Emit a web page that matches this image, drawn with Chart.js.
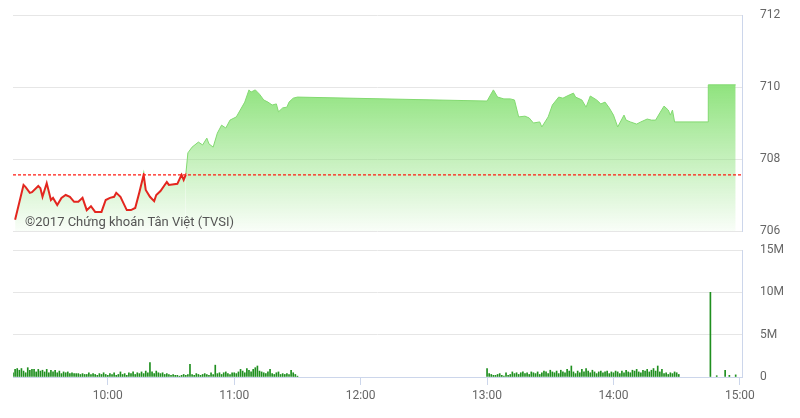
<!DOCTYPE html>
<html lang="vi">
<head>
    <meta charset="UTF-8">
    <title>Diễn biến chỉ số trong phiên</title>
    <script src="https://cdn.jsdelivr.net/npm/chart.js"></script>
    <style>
        body {
            margin: 0;
            background: #fff;
            font-family: Roboto, sans-serif;
        }

        #wrap {
            position: relative;
            width: 800px;
            height: 418px;
        }

        #priceChart {
            position: absolute;
            left: 0;
            top: 0;
        }

        #volumeChart {
            position: absolute;
            left: 0;
            top: 240px;
        }

        #credit {
            position: absolute;
            left: 25px;
            top: 214px;
            font-size: 13px;
            color: #555;
            white-space: nowrap;
        }
    </style>
</head>
<body>
    <div id="wrap">
        <canvas id="priceChart" width="800" height="240"></canvas>
        <canvas id="volumeChart" width="800" height="178"></canvas>
        <div id="credit">©2017 Chứng khoán Tân Việt (TVSI)</div>
    </div>

    <script>
        // tham chiếu (giá đóng cửa phiên trước)
        var refPrice = 707.56;

        // diễn biến chỉ số
        var priceTimes = [
            '9:16', '9:20', '9:21', '9:23', '9:24', '9:27', '9:28', '9:29', '9:31', '9:33',
            '9:34', '9:36', '9:38', '9:40', '9:42', '9:44', '9:46', '9:48', '9:50', '9:52',
            '9:54', '9:57', '9:59', '10:01', '10:03', '10:04', '10:06', '10:09', '10:11', '10:13',
            '10:15', '10:17', '10:18', '10:20', '10:22', '10:23', '10:25', '10:28', '10:29', '10:33',
            '10:35', '10:36', '10:37', '10:38', '10:40', '10:43', '10:45', '10:47', '10:48', '10:50',
            '10:52', '10:54', '10:56', '10:58', '11:01', '11:05', '11:07', '11:08', '11:10', '11:12',
            '11:14', '11:16', '11:18', '11:20', '11:21', '11:23', '11:25', '11:26', '11:28', '11:30',
            '13:00', '13:03', '13:05', '13:08', '13:11', '13:13', '13:15', '13:18', '13:20', '13:22',
            '13:25', '13:26', '13:29', '13:31', '13:34', '13:36', '13:38', '13:41', '13:42', '13:45',
            '13:47', '13:49', '13:52', '13:54', '13:56', '13:58', '14:00', '14:02', '14:05', '14:06',
            '14:08', '14:11', '14:13', '14:16', '14:18', '14:20', '14:22', '14:24', '14:26', '14:27',
            '14:28', '14:29', '14:45', '14:45', '14:58'
        ];
        var priceValues = [
            706.31, 707.28, 707.22, 707.06, 707.08, 707.25, 707.19, 706.95, 707.33, 706.86,
            706.92, 706.72, 706.92, 707.00, 706.95, 706.81, 706.81, 706.92, 706.58, 706.69,
            706.53, 706.53, 706.86, 706.92, 706.95, 707.06, 706.95, 706.58, 706.58, 706.64,
            707.08, 707.56, 707.14, 706.95, 706.83, 707.00, 707.11, 707.36, 707.28, 707.31,
            707.56, 707.42, 707.56, 708.17, 708.33, 708.47, 708.39, 708.58, 708.42, 708.33,
            708.72, 708.94, 708.86, 709.08, 709.17, 709.58, 709.92, 709.86, 709.92, 709.80,
            709.64, 709.58, 709.50, 709.53, 709.31, 709.42, 709.44, 709.58, 709.69, 709.72,
            709.61, 709.92, 709.72, 709.67, 709.67, 709.64, 709.17, 709.19, 709.14, 709.00,
            709.03, 708.89, 709.17, 709.50, 709.72, 709.69, 709.75, 709.83, 709.72, 709.64,
            709.44, 709.75, 709.64, 709.53, 709.58, 709.42, 709.22, 708.89, 709.22, 709.08,
            709.03, 708.97, 709.03, 709.11, 709.08, 709.08, 709.28, 709.47, 709.36, 709.22,
            709.36, 709.03, 709.03, 710.06, 710.06
        ];

        // khối lượng (triệu cp), mỗi phút một cột
        var morningStart = '9:15';
        var morningVolumes = [
            0.5, 0.9, 1.0, 0.8, 1.0, 0.7, 0.5, 1.1, 0.8, 0.9, 0.9, 0.6, 0.9, 0.7, 0.8, 0.6,
            0.9, 0.5, 0.8, 0.6, 0.8, 0.5, 0.7, 0.4, 0.6, 0.5, 0.6, 0.4, 0.5, 0.4, 0.4,
            0.4, 0.3, 0.4, 0.3, 0.3, 0.5, 0.3, 0.4, 0.3, 0.2, 0.4, 0.3, 0.5, 0.3, 0.2,
            0.4, 0.3, 0.5, 0.2, 0.3, 0.6, 0.3, 0.4, 0.2, 0.5, 0.4, 0.6, 0.3, 0.5, 0.4,
            0.6, 0.4, 0.7, 0.5, 1.7, 0.6, 0.4, 0.7, 0.5, 0.4, 0.5, 0.3, 0.4, 0.3, 0.2,
            0.3, 0.2, 0.2, 0.1, 0.2, 0.3, 0.2, 0.3, 1.5, 0.3, 0.2, 0.4, 0.3, 0.2, 0.3,
            0.4, 0.3, 0.2, 0.5, 0.3, 1.4, 0.4, 0.5, 0.3, 0.5, 0.6, 0.4, 0.3, 0.5, 0.5,
            0.4, 0.6, 0.9, 0.7, 0.5, 1.0, 0.8, 0.6, 0.9, 1.1, 1.3, 0.7, 0.6, 0.5, 0.4,
            0.6, 0.9, 0.4, 0.3, 0.5, 0.6, 0.3, 0.4, 0.3, 0.4, 0.3, 0.8, 0.5, 0.3, 0.1
        ];
        var afternoonStart = '13:00';
        var afternoonVolumes = [
            1.0, 0.4, 0.3, 0.2, 0.2, 0.3, 0.4, 0.2, 0.1, 0.5, 0.2, 0.3, 0.6, 0.4, 0.5, 0.3,
            0.5, 0.6, 0.4, 0.5, 0.3, 0.6, 0.5, 0.4, 0.6, 0.3, 0.5, 0.7, 0.6, 0.4, 0.8,
            0.6, 0.5, 0.7, 0.4, 0.8, 0.6, 0.5, 0.9, 0.7, 1.3, 0.6, 0.4, 0.7, 0.5, 0.9,
            0.6, 1.0, 0.7, 0.5, 0.8, 0.6, 0.4, 0.6, 0.7, 0.5, 0.6, 0.7, 0.4, 0.6, 0.5,
            0.7, 0.6, 0.4, 0.7, 0.5, 0.8, 0.6, 0.5, 0.8, 0.7, 0.9, 0.6, 0.5, 0.8, 0.7,
            0.9, 0.6, 0.8, 1.0, 0.7, 1.3, 0.6, 0.9, 0.4, 0.5, 0.3, 0.5, 0.4, 0.6, 0.5, 0.3
        ];
        // ATC và sau ATC
        var closeTimes = ['14:46', '14:49', '14:53', '14:55', '14:58'];
        var closeVolumes = [10.0, 0.15, 0.8, 0.2, 0.25];

        var timeRange = ['9:15', '15:01'];
        var timeTicks = ['10:00', '11:00', '12:00', '13:00', '14:00', '15:00'];
        var priceTicks = [706, 708, 710, 712];
        var volumeTicks = [0, 5, 10, 15];

        function toMin(s) {
            var p = s.split(':');
            return parseInt(p[0], 10) * 60 + parseInt(p[1], 10);
        }

        function minLabel(m) {
            var h = Math.floor(m / 60), mm = m % 60;
            return h + ':' + (mm < 10 ? '0' : '') + mm;
        }

        var xMin = toMin(timeRange[0]);
        var xMax = toMin(timeRange[1]);

        var pricePoints = priceTimes.map(function (t, i) {
            return { x: toMin(t), y: priceValues[i] };
        });

        var volumePoints = [];
        morningVolumes.forEach(function (v, i) {
            volumePoints.push({ x: toMin(morningStart) + i, y: v });
        });
        afternoonVolumes.forEach(function (v, i) {
            volumePoints.push({ x: toMin(afternoonStart) + i, y: v });
        });
        closeTimes.forEach(function (t, i) {
            volumePoints.push({ x: toMin(t), y: closeVolumes[i] });
        });

        var labelFont = { family: 'Roboto', size: 12 };
        var green = '#82d970';
        var red = '#e3261f';

        // nét: xanh trên tham chiếu, đỏ dưới tham chiếu
        function priceStroke(context) {
            var chart = context.chart, area = chart.chartArea;
            if (!area) return red;
            var y = chart.scales.y.getPixelForValue(refPrice + 0.04);
            var f = Math.min(1, Math.max(0, (y - area.top) / (area.bottom - area.top)));
            var g = chart.ctx.createLinearGradient(0, area.top, 0, area.bottom);
            g.addColorStop(0, green);
            g.addColorStop(f, green);
            g.addColorStop(f, red);
            g.addColorStop(1, red);
            return g;
        }

        function priceFill(context) {
            var chart = context.chart, area = chart.chartArea;
            if (!area) return 'rgba(140,226,122,0.5)';
            var g = chart.ctx.createLinearGradient(0, chart.scales.y.getPixelForValue(710.2), 0, area.bottom);
            g.addColorStop(0, 'rgba(140,226,122,1)');
            g.addColorStop(1, 'rgba(140,226,122,0.05)');
            return g;
        }

        // trục phải: khoảng cách nhãn bằng vạch trong suốt (không đẩy lề trên/dưới)
        var rightGrid = { color: '#e6e6e6', drawTicks: true, tickLength: 18, tickColor: 'rgba(0,0,0,0)' };

        new Chart(document.getElementById('priceChart'), {
            type: 'line',
            data: {
                datasets: [{
                    data: [{ x: xMin, y: refPrice }, { x: xMax, y: refPrice }],
                    borderColor: '#ff1a12',
                    borderWidth: 1.2,
                    borderDash: [3, 2],
                    pointRadius: 0,
                    fill: false,
                    order: 0
                }, {
                    data: pricePoints,
                    borderColor: priceStroke,
                    backgroundColor: priceFill,
                    segment: {
                        borderWidth: function (ctx) {
                            return (ctx.p0.parsed.y <= refPrice + 0.01 && ctx.p1.parsed.y <= refPrice + 0.01) ? 2 : 1;
                        }
                    },
                    borderWidth: 1,
                    pointRadius: 0,
                    tension: 0,
                    fill: 'start',
                    order: 1
                }]
            },
            options: {
                responsive: false,
                animation: false,
                layout: { padding: { left: 13, top: 15, right: 0, bottom: 9 } },
                plugins: { legend: { display: false }, tooltip: { enabled: false } },
                scales: {
                    x: { type: 'linear', display: false, min: xMin, max: xMax },
                    y: {
                        position: 'right',
                        min: priceTicks[0],
                        max: priceTicks[priceTicks.length - 1],
                        afterBuildTicks: function (s) {
                            s.ticks = priceTicks.map(function (v) { return { value: v }; });
                        },
                        afterFit: function (s) { s.width = 58; },
                        grid: rightGrid,
                        border: { display: true, color: '#ccd6eb' },
                        ticks: { padding: 0, color: '#666', font: labelFont }
                    }
                }
            }
        });

        new Chart(document.getElementById('volumeChart'), {
            type: 'bar',
            data: {
                datasets: [{
                    data: volumePoints,
                    backgroundColor: '#1f8f1f',
                    barThickness: 1,
                    grouped: false
                }]
            },
            options: {
                responsive: false,
                animation: false,
                layout: { padding: { left: 13, top: 10, right: 0, bottom: 0 } },
                plugins: { legend: { display: false }, tooltip: { enabled: false } },
                scales: {
                    x: {
                        type: 'linear',
                        min: xMin,
                        max: xMax,
                        offset: false,
                        afterBuildTicks: function (s) {
                            s.ticks = timeTicks.map(function (t) { return { value: toMin(t) }; });
                        },
                        afterFit: function (s) { s.height = 41; },
                        grid: { offset: false, drawOnChartArea: false, drawTicks: true, tickLength: 8, color: '#ccd6eb' },
                        border: { display: true, color: '#ccd6eb' },
                        ticks: {
                            padding: 4,
                            color: '#666',
                            font: labelFont,
                            maxRotation: 0,
                            autoSkip: false,
                            callback: function (v) { return minLabel(v); }
                        }
                    },
                    y: {
                        position: 'right',
                        min: volumeTicks[0],
                        max: volumeTicks[volumeTicks.length - 1],
                        afterBuildTicks: function (s) {
                            s.ticks = volumeTicks.map(function (v) { return { value: v }; });
                        },
                        afterFit: function (s) { s.width = 58; },
                        grid: rightGrid,
                        border: { display: true, color: '#ccd6eb' },
                        ticks: {
                            padding: 0,
                            color: '#666',
                            font: labelFont,
                            callback: function (v) { return v === 0 ? '0' : v + 'M'; }
                        }
                    }
                }
            }
        });
    </script>
</body>
</html>
